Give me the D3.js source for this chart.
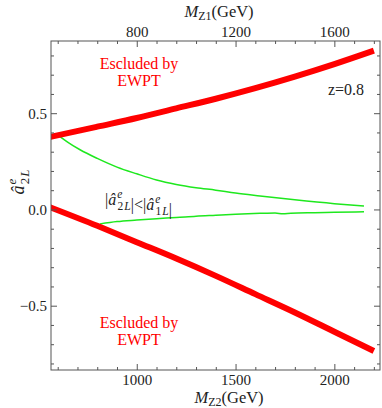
<!DOCTYPE html>
<html>
<head>
<meta charset="utf-8">
<script src="https://cdn.jsdelivr.net/npm/d3@7"></script>
<style>
  body { margin: 0; background: #fff; }
  text { font-family: "Liberation Serif", "DejaVu Serif", serif; }
</style>
</head>
<body>
<div class="chart"></div>
<script>
// M_Z2 (GeV) and a_2L values
const upperRedM = [560, 800, 1000, 1200, 1400, 1600, 1800, 2000, 2200];
const upperRedA = [0.376, 0.43, 0.475, 0.525, 0.575, 0.63, 0.69, 0.755, 0.825];

const lowerRedM = [560, 800, 1000, 1200, 1400, 1600, 1800, 2000, 2200];
const lowerRedA = [0.012, -0.085, -0.17, -0.255, -0.345, -0.44, -0.535, -0.635, -0.735];

const upperGreenM = [610, 650, 713, 800, 900, 1000, 1100, 1200, 1300, 1400, 1500, 1624, 1800, 2000, 2150];
const upperGreenA = [0.38, 0.35, 0.31, 0.265, 0.22, 0.185, 0.153, 0.13, 0.113, 0.1, 0.085, 0.07, 0.05, 0.03, 0.018];

const lowerGreenM = [814, 900, 1000, 1100, 1200, 1300, 1400, 1500, 1624, 1700, 1740, 1780, 1900, 2000, 2150];
const lowerGreenA = [-0.075, -0.063, -0.055, -0.048, -0.042, -0.035, -0.03, -0.025, -0.02, -0.018, -0.023, -0.02, -0.017, -0.015, -0.012];

const bottomMajor = [1000, 1500, 2000];
const topMajor = [800, 1200, 1600];
const yMajor = [-0.5, 0, 0.5];
const zValue = 0.8;

const width = 382, height = 408;
const frame = ({left: 51, right: 380, top: 41, bottom: 370});

const svg = d3.select('.chart').append('svg')
    .attr('width', width)
    .attr('height', height);

//scales
const x = d3.scaleLinear().domain([566, 2231]).range([frame.left, frame.right]);
const xTop = d3.scaleLinear().domain([566 * zValue, 2231 * zValue]).range([frame.left, frame.right]);
const y = d3.scaleLinear().domain([-0.834, 0.875]).range([frame.bottom, frame.top]);

svg.append('clipPath').attr('id', 'clip')
    .append('rect')
    .attr('x', frame.left).attr('y', frame.top)
    .attr('width', frame.right - frame.left).attr('height', frame.bottom - frame.top);

const plot = svg.append('g').attr('clip-path', 'url(#clip)');

const line = d3.line()
    .x(d => x(d[0]))
    .y(d => y(d[1]))
    .curve(d3.curveMonotoneX);

function pairs(ms, as) { return ms.map((m, i) => [m, as[i]]); }

//green curves
[pairs(upperGreenM, upperGreenA), pairs(lowerGreenM, lowerGreenA)].forEach(d => {
    plot.append('path')
        .attr('d', line(d))
        .attr('fill', 'none')
        .attr('stroke', '#1ee81e')
        .attr('stroke-width', 1.5);
});

//red curves
[pairs(upperRedM, upperRedA), pairs(lowerRedM, lowerRedA)].forEach(d => {
    plot.append('path')
        .attr('d', line(d))
        .attr('fill', 'none')
        .attr('stroke', '#ff0000')
        .attr('stroke-width', 6);
});

//axes
const axisColor = '#555';
const bottomMinor = d3.range(600, 2201, 100).filter(v => !bottomMajor.includes(v));
const topMinor = d3.range(480, 1761, 80).filter(v => !topMajor.includes(v));
const yMinor = d3.range(-8, 9).map(v => v / 10).filter(v => !yMajor.includes(v));

function drawAxis(axisFn, scale, major, minor, transform, fmt, labels) {
    const gMinor = svg.append('g').attr('transform', transform)
        .call(axisFn(scale).tickValues(minor).tickSizeInner(-3).tickSizeOuter(0).tickFormat(''));
    const gMajor = svg.append('g').attr('transform', transform)
        .call(axisFn(scale).tickValues(major).tickSizeInner(-6).tickSizeOuter(0).tickPadding(4)
            .tickFormat(labels ? fmt : ''));
    [gMinor, gMajor].forEach(g => {
        g.select('.domain').remove();
        g.selectAll('line').attr('stroke', axisColor);
        g.selectAll('text').attr('font-size', 15).attr('fill', '#222')
            .attr('font-family', '"Liberation Serif", serif');
    });
}

drawAxis(d3.axisBottom, x, bottomMajor, bottomMinor, `translate(0,${frame.bottom})`, d3.format('d'), true);
drawAxis(d3.axisTop, xTop, topMajor, topMinor, `translate(0,${frame.top})`, d3.format('d'), true);
drawAxis(d3.axisLeft, y, yMajor, yMinor, `translate(${frame.left},0)`, d3.format('.1f'), true);
drawAxis(d3.axisRight, y, yMajor, yMinor, `translate(${frame.right},0)`, d3.format('.1f'), false);

svg.append('rect')
    .attr('x', frame.left).attr('y', frame.top)
    .attr('width', frame.right - frame.left).attr('height', frame.bottom - frame.top)
    .attr('fill', 'none')
    .attr('stroke', axisColor)
    .attr('stroke-width', 1);

//axis titles
function massLabel(xc, yb, sub) {
    const t = svg.append('text')
        .attr('x', xc).attr('y', yb)
        .attr('text-anchor', 'middle')
        .attr('font-size', 16.5)
        .attr('fill', '#222');
    t.append('tspan').attr('font-style', 'italic').text('M');
    t.append('tspan').attr('font-size', 12).attr('dy', 3).text(sub);
    t.append('tspan').attr('dy', -3).text('(GeV)');
}
massLabel(219, 17, 'Z1');
massLabel(229, 403, 'Z2');

//hatted coupling with super/subscript
function coupling(parent, sub, size) {
    parent.append('tspan').attr('font-style', 'italic').text('â');
    parent.append('tspan').attr('font-style', 'italic').attr('font-size', size * 0.72)
        .attr('dy', -size * 0.45).attr('dx', 1).text('e');
    parent.append('tspan').attr('font-size', size * 0.72)
        .attr('dy', size * 0.75).attr('dx', -size * 0.3).text(sub[0]);
    parent.append('tspan').attr('font-size', size * 0.72).attr('font-style', 'italic')
        .attr('dx', 1).text(sub[1]);
    parent.append('tspan').attr('dy', -size * 0.3).text('');
}

const yLab = svg.append('text')
    .attr('transform', 'translate(24,182) rotate(-90)')
    .attr('text-anchor', 'middle')
    .attr('font-size', 18)
    .attr('fill', '#222');
coupling(yLab, ['2', 'L'], 18);

const ineq = svg.append('text')
    .attr('x', 105).attr('y', 205)
    .attr('font-size', 16)
    .attr('fill', '#222');
ineq.append('tspan').text('|');
coupling(ineq, ['2', 'L'], 16);
ineq.append('tspan').text('|<|');
coupling(ineq, ['1', 'L'], 16);
ineq.append('tspan').text('|');

//annotations
function excluded(yb) {
    svg.append('text').attr('x', 139).attr('y', yb)
        .attr('text-anchor', 'middle').attr('font-size', 16).attr('fill', '#ff0000')
        .text('Escluded by');
    svg.append('text').attr('x', 139).attr('y', yb + 17)
        .attr('text-anchor', 'middle').attr('font-size', 16).attr('fill', '#ff0000')
        .text('EWPT');
}
excluded(69);
excluded(328);

svg.append('text')
    .attr('x', 346).attr('y', 95)
    .attr('text-anchor', 'middle')
    .attr('font-size', 16)
    .attr('fill', '#222')
    .text('z=' + zValue);
</script>
</body>
</html>
